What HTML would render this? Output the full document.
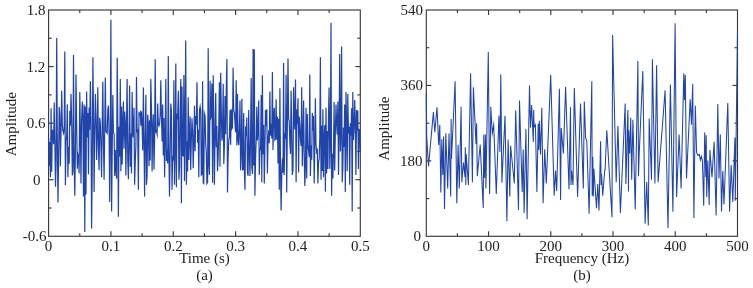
<!DOCTYPE html><html><head><meta charset="utf-8"><style>html,body{margin:0;padding:0;background:#fff;}svg{display:block;will-change:transform;}text{font-family:"Liberation Serif",serif;fill:#222;}</style></head><body>
<svg width="753" height="288" viewBox="0 0 753 288">
<g stroke="#3a3a3a" stroke-width="1.15" fill="none">
<line x1="110.94" y1="236.3" x2="110.94" y2="231.3"/>
<line x1="110.94" y1="10.0" x2="110.94" y2="15.0"/>
<line x1="173.28" y1="236.3" x2="173.28" y2="231.3"/>
<line x1="173.28" y1="10.0" x2="173.28" y2="15.0"/>
<line x1="235.62" y1="236.3" x2="235.62" y2="231.3"/>
<line x1="235.62" y1="10.0" x2="235.62" y2="15.0"/>
<line x1="297.96" y1="236.3" x2="297.96" y2="231.3"/>
<line x1="297.96" y1="10.0" x2="297.96" y2="15.0"/>
<line x1="79.77" y1="236.3" x2="79.77" y2="233.3"/>
<line x1="79.77" y1="10.0" x2="79.77" y2="13.0"/>
<line x1="142.11" y1="236.3" x2="142.11" y2="233.3"/>
<line x1="142.11" y1="10.0" x2="142.11" y2="13.0"/>
<line x1="204.45" y1="236.3" x2="204.45" y2="233.3"/>
<line x1="204.45" y1="10.0" x2="204.45" y2="13.0"/>
<line x1="266.79" y1="236.3" x2="266.79" y2="233.3"/>
<line x1="266.79" y1="10.0" x2="266.79" y2="13.0"/>
<line x1="329.13" y1="236.3" x2="329.13" y2="233.3"/>
<line x1="329.13" y1="10.0" x2="329.13" y2="13.0"/>
<line x1="48.6" y1="66.58" x2="53.6" y2="66.58"/>
<line x1="360.3" y1="66.58" x2="355.3" y2="66.58"/>
<line x1="48.6" y1="123.15" x2="53.6" y2="123.15"/>
<line x1="360.3" y1="123.15" x2="355.3" y2="123.15"/>
<line x1="48.6" y1="179.73" x2="53.6" y2="179.73"/>
<line x1="360.3" y1="179.73" x2="355.3" y2="179.73"/>
<line x1="48.6" y1="38.29" x2="51.6" y2="38.29"/>
<line x1="360.3" y1="38.29" x2="357.3" y2="38.29"/>
<line x1="48.6" y1="94.86" x2="51.6" y2="94.86"/>
<line x1="360.3" y1="94.86" x2="357.3" y2="94.86"/>
<line x1="48.6" y1="151.44" x2="51.6" y2="151.44"/>
<line x1="360.3" y1="151.44" x2="357.3" y2="151.44"/>
<line x1="48.6" y1="208.01" x2="51.6" y2="208.01"/>
<line x1="360.3" y1="208.01" x2="357.3" y2="208.01"/>
<rect x="48.6" y="10.0" width="311.70" height="226.30" fill="none"/>
<line x1="488.54" y1="236.3" x2="488.54" y2="231.3"/>
<line x1="488.54" y1="10.0" x2="488.54" y2="15.0"/>
<line x1="550.78" y1="236.3" x2="550.78" y2="231.3"/>
<line x1="550.78" y1="10.0" x2="550.78" y2="15.0"/>
<line x1="613.02" y1="236.3" x2="613.02" y2="231.3"/>
<line x1="613.02" y1="10.0" x2="613.02" y2="15.0"/>
<line x1="675.26" y1="236.3" x2="675.26" y2="231.3"/>
<line x1="675.26" y1="10.0" x2="675.26" y2="15.0"/>
<line x1="457.42" y1="236.3" x2="457.42" y2="233.3"/>
<line x1="457.42" y1="10.0" x2="457.42" y2="13.0"/>
<line x1="519.66" y1="236.3" x2="519.66" y2="233.3"/>
<line x1="519.66" y1="10.0" x2="519.66" y2="13.0"/>
<line x1="581.90" y1="236.3" x2="581.90" y2="233.3"/>
<line x1="581.90" y1="10.0" x2="581.90" y2="13.0"/>
<line x1="644.14" y1="236.3" x2="644.14" y2="233.3"/>
<line x1="644.14" y1="10.0" x2="644.14" y2="13.0"/>
<line x1="706.38" y1="236.3" x2="706.38" y2="233.3"/>
<line x1="706.38" y1="10.0" x2="706.38" y2="13.0"/>
<line x1="426.3" y1="85.43" x2="431.3" y2="85.43"/>
<line x1="737.5" y1="85.43" x2="732.5" y2="85.43"/>
<line x1="426.3" y1="160.87" x2="431.3" y2="160.87"/>
<line x1="737.5" y1="160.87" x2="732.5" y2="160.87"/>
<line x1="426.3" y1="47.72" x2="429.3" y2="47.72"/>
<line x1="737.5" y1="47.72" x2="734.5" y2="47.72"/>
<line x1="426.3" y1="123.15" x2="429.3" y2="123.15"/>
<line x1="737.5" y1="123.15" x2="734.5" y2="123.15"/>
<line x1="426.3" y1="198.58" x2="429.3" y2="198.58"/>
<line x1="737.5" y1="198.58" x2="734.5" y2="198.58"/>
<rect x="426.3" y="10.0" width="311.20" height="226.30" fill="none"/>
</g>
<polyline points="48.6,138.0 49.2,166.0 49.8,142.1 50.5,177.3 51.1,108.3 51.7,171.7 52.3,130.4 53.0,130.4 53.6,144.2 54.2,102.5 54.8,137.6 55.5,186.7 56.1,163.1 56.7,38.0 57.3,138.0 58.0,202.5 58.6,158.4 59.2,106.9 59.8,114.2 60.4,166.2 61.1,126.9 61.7,90.8 62.3,124.5 62.9,131.1 63.6,133.3 64.2,128.4 64.8,51.6 65.4,185.2 66.1,141.3 66.7,136.4 67.3,104.2 67.9,177.3 68.5,146.9 69.2,163.8 69.8,111.1 70.4,125.8 71.0,94.0 71.7,122.4 72.3,175.3 72.9,171.2 73.5,55.0 74.2,165.4 74.8,195.8 75.4,149.8 76.0,74.4 76.7,128.7 77.3,168.7 77.9,154.2 78.5,156.4 79.1,173.5 79.8,91.9 80.4,131.4 81.0,183.5 81.6,119.5 82.3,101.4 82.9,119.0 83.5,196.6 84.1,104.6 84.8,232.1 85.4,106.4 86.0,194.6 86.6,91.4 87.3,137.5 87.9,113.1 88.5,174.3 89.1,107.5 89.7,129.7 90.4,81.2 91.0,121.7 91.6,228.6 92.2,174.4 92.9,57.2 93.5,114.9 94.1,192.1 94.7,133.9 95.4,94.0 96.0,116.9 96.6,160.1 97.2,136.4 97.8,87.2 98.5,150.7 99.1,170.3 99.7,117.8 100.3,123.0 101.0,149.1 101.6,177.3 102.2,123.6 102.8,81.7 103.5,145.9 104.1,179.8 104.7,131.9 105.3,77.4 106.0,131.5 106.6,132.4 107.2,133.2 107.8,110.0 108.4,105.7 109.1,134.9 109.7,202.0 110.3,134.2 110.9,19.8 111.6,211.4 112.2,151.3 112.8,95.1 113.4,132.3 114.1,134.1 114.7,176.1 115.3,150.0 115.9,171.0 116.6,178.6 117.2,57.8 117.8,124.2 118.4,216.8 119.0,126.7 119.7,156.5 120.3,79.1 120.9,171.2 121.5,106.5 122.2,164.6 122.8,119.6 123.4,101.4 124.0,148.8 124.7,111.5 125.3,122.3 125.9,175.5 126.5,124.7 127.1,79.1 127.8,161.1 128.4,179.3 129.0,141.2 129.6,85.5 130.3,166.8 130.9,133.4 131.5,173.6 132.1,91.9 132.8,134.2 133.4,137.5 134.0,107.8 134.6,184.7 135.3,161.1 135.9,144.7 136.5,77.0 137.1,131.2 137.7,130.4 138.4,189.7 139.0,113.2 139.6,114.2 140.2,112.5 140.9,125.8 141.5,111.2 142.1,124.6 142.7,150.6 143.4,87.6 144.0,140.6 144.6,196.6 145.2,138.7 145.9,95.1 146.5,184.7 147.1,175.4 147.7,114.8 148.3,123.1 149.0,166.2 149.6,120.2 150.2,160.6 150.8,79.1 151.5,108.8 152.1,171.5 152.7,129.0 153.3,114.2 154.0,169.5 154.6,140.1 155.2,59.3 155.8,131.4 156.4,130.4 157.1,134.1 157.7,103.6 158.3,124.5 158.9,126.0 159.6,123.2 160.2,114.2 160.8,80.2 161.4,115.1 162.1,141.6 162.7,104.6 163.3,155.5 163.9,117.9 164.6,177.3 165.2,135.0 165.8,79.1 166.4,161.0 167.0,149.8 167.7,163.4 168.3,55.9 168.9,155.6 169.5,196.6 170.2,149.5 170.8,103.6 171.4,110.5 172.0,189.7 172.7,157.8 173.3,159.0 173.9,80.2 174.5,184.7 175.2,146.1 175.8,63.5 176.4,187.2 177.0,113.7 177.6,119.5 178.3,90.8 178.9,179.8 179.5,167.2 180.1,109.3 180.8,79.1 181.4,203.2 182.0,86.6 182.6,155.4 183.3,155.9 183.9,74.9 184.5,181.0 185.1,129.8 185.7,40.4 186.4,184.7 187.0,141.3 187.6,171.4 188.2,97.2 188.9,160.0 189.5,128.7 190.1,116.3 190.7,169.9 191.4,137.2 192.0,118.2 192.6,131.7 193.2,168.2 193.9,140.7 194.5,105.7 195.1,151.3 195.7,116.0 196.3,124.6 197.0,82.3 197.6,142.7 198.2,129.7 198.8,177.3 199.5,110.1 200.1,106.6 200.7,111.0 201.3,174.9 202.0,174.0 202.6,81.2 203.2,182.8 203.8,183.5 204.4,113.5 205.1,116.3 205.7,143.5 206.3,152.1 206.9,183.5 207.6,182.3 208.2,48.2 208.8,163.6 209.4,174.9 210.1,80.8 210.7,118.0 211.3,116.0 211.9,83.4 212.6,182.8 213.2,75.3 213.8,119.5 214.4,184.7 215.0,138.0 215.7,92.9 216.3,147.2 216.9,125.9 217.5,171.2 218.2,156.6 218.8,125.9 219.4,82.3 220.0,166.7 220.7,72.7 221.3,110.8 221.9,140.8 222.5,135.4 223.2,83.8 223.8,164.0 224.4,147.1 225.0,96.1 225.6,134.3 226.3,87.2 226.9,58.9 227.5,192.6 228.1,156.4 228.8,139.3 229.4,137.0 230.0,110.0 230.6,144.8 231.3,109.3 231.9,128.7 232.5,127.5 233.1,67.8 233.7,110.7 234.4,112.3 235.0,122.8 235.6,132.2 236.2,80.2 236.9,145.6 237.5,94.0 238.1,140.2 238.7,145.0 239.4,127.6 240.0,100.4 240.6,170.3 241.2,154.1 241.9,98.7 242.5,169.9 243.1,169.5 243.7,113.1 244.3,168.4 245.0,189.7 245.6,126.6 246.2,136.2 246.8,117.4 247.5,172.4 248.1,175.8 248.7,110.0 249.3,151.9 250.0,176.1 250.6,134.7 251.2,78.1 251.8,167.5 252.5,174.0 253.1,48.9 253.7,165.5 254.3,49.5 254.9,195.8 255.6,157.4 256.2,139.6 256.8,106.7 257.4,140.5 258.1,129.2 258.7,100.4 259.3,174.9 259.9,151.7 260.6,147.2 261.2,95.1 261.8,182.3 262.4,75.3 263.0,154.2 263.7,124.8 264.3,183.5 264.9,148.3 265.5,110.0 266.2,126.2 266.8,109.3 267.4,173.6 268.0,141.7 268.7,130.4 269.3,143.3 269.9,91.4 270.5,135.6 271.2,123.7 271.8,138.5 272.4,72.1 273.0,149.9 273.6,114.8 274.3,107.8 274.9,140.0 275.5,139.0 276.1,99.3 276.8,139.7 277.4,116.7 278.0,163.5 278.6,118.8 279.3,189.7 279.9,88.3 280.5,166.8 281.1,210.6 281.8,172.7 282.4,158.4 283.0,172.6 283.6,63.1 284.2,174.9 284.9,133.3 285.5,138.7 286.1,74.9 286.7,192.6 287.4,119.5 288.0,58.4 288.6,118.9 289.2,120.7 289.9,143.8 290.5,154.0 291.1,90.8 291.7,127.7 292.3,174.9 293.0,170.0 293.6,87.2 294.2,119.1 294.8,129.5 295.5,79.5 296.1,182.3 296.7,109.5 297.3,124.3 298.0,98.2 298.6,172.6 299.2,116.6 299.8,125.8 300.5,140.4 301.1,146.0 301.7,87.2 302.3,166.2 302.9,143.2 303.6,100.4 304.2,153.6 304.8,186.0 305.4,166.6 306.1,107.8 306.7,178.6 307.3,114.1 307.9,144.7 308.6,151.5 309.2,157.3 309.8,74.4 310.4,176.1 311.1,145.2 311.7,159.7 312.3,112.8 312.9,130.4 313.5,115.7 314.2,183.5 314.8,143.8 315.4,98.2 316.0,144.0 316.7,153.9 317.3,148.5 317.9,183.5 318.5,162.7 319.2,158.8 319.8,136.9 320.4,57.2 321.0,179.8 321.6,125.6 322.3,170.9 322.9,109.3 323.5,177.3 324.1,137.2 324.8,125.1 325.4,191.6 326.0,107.8 326.6,173.4 327.3,131.0 327.9,168.9 328.5,115.1 329.1,87.6 329.8,168.8 330.4,140.3 331.0,22.7 331.6,195.8 332.2,153.8 332.9,178.6 333.5,149.9 334.1,102.1 334.7,170.6 335.4,129.9 336.0,104.6 336.6,123.0 337.2,134.4 337.9,101.4 338.5,174.9 339.1,131.4 339.7,54.0 340.4,151.5 341.0,130.9 341.6,46.5 342.2,182.3 342.8,168.8 343.5,127.5 344.1,146.8 344.7,104.6 345.3,192.1 346.0,91.9 346.6,125.0 347.2,171.2 347.8,94.0 348.5,133.6 349.1,127.1 349.7,184.7 350.3,123.2 350.9,135.4 351.6,108.3 352.2,211.4 352.8,91.9 353.4,140.2 354.1,129.1 354.7,100.0 355.3,119.9 355.9,174.9 356.6,110.0 357.2,130.5 357.8,110.6 358.4,168.9 359.1,129.5 359.7,130.0 360.3,152.0" fill="none" stroke="#2044a9" stroke-width="1.2" stroke-linejoin="miter" stroke-miterlimit="10"/>
<polyline points="426.3,93.5 426.7,136.0 428.5,166.2 433.4,112.1 434.8,132.3 437.0,107.2 438.7,145.0 439.8,124.9 440.8,192.6 441.8,139.3 442.8,174.9 443.6,136.4 444.5,208.9 445.8,133.3 447.7,188.4 449.0,133.4 450.7,196.6 451.1,119.0 451.5,158.9 455.1,81.2 456.8,203.2 458.1,144.8 459.3,188.4 461.1,106.7 461.8,182.3 463.5,162.5 465.0,177.3 465.3,147.2 465.8,185.0 466.2,154.0 468.4,185.0 470.6,73.2 472.4,182.3 473.4,87.2 476.0,144.0 476.6,123.3 477.3,176.1 480.2,144.5 483.2,208.1 483.8,134.4 484.6,178.0 485.4,134.4 485.9,188.4 488.3,51.9 489.6,194.1 490.8,106.7 492.3,133.4 493.7,125.0 496.3,194.1 498.9,115.7 499.9,151.9 500.8,74.4 501.9,182.8 505.0,115.7 506.9,221.2 508.1,139.6 509.8,196.6 510.6,145.8 514.3,183.5 515.7,110.6 518.5,209.9 519.5,100.4 522.2,192.1 523.2,149.6 524.1,213.1 525.9,129.1 527.1,219.2 529.5,85.5 530.5,127.8 531.6,105.0 533.3,141.9 533.7,110.0 534.1,127.0 535.4,124.9 536.9,192.1 538.2,123.8 538.8,150.0 539.3,120.8 540.5,154.4 541.8,107.8 543.1,203.2 544.7,149.2 546.3,183.5 550.7,74.9 554.2,195.8 555.5,170.6 556.7,190.9 559.4,88.7 560.6,200.0 561.2,128.1 563.4,153.5 565.6,87.0 569.0,189.2 570.5,107.2 571.0,185.0 571.6,170.8 573.0,185.0 574.3,88.0 577.6,197.1 580.5,103.6 583.3,188.4 584.3,101.4 585.6,138.0 586.8,141.0 589.1,213.8 591.8,81.2 592.2,195.8 592.8,156.7 593.3,196.6 593.9,168.8 596.5,208.1 597.8,184.1 599.0,210.6 600.6,141.2 601.1,185.0 601.6,174.0 602.7,195.8 604.8,169.8 605.1,169.9 606.8,130.2 612.0,217.3 612.6,35.1 616.2,182.3 617.9,126.0 620.4,213.1 625.2,103.6 625.9,183.9 626.6,160.4 627.2,131.2 627.9,110.0 628.5,191.6 628.7,130.2 629.7,153.4 630.7,117.8 631.7,179.8 632.9,119.8 635.2,209.4 637.9,61.0 638.5,176.3 639.1,156.2 640.2,131.2 642.8,71.0 645.1,223.7 646.7,181.9 648.3,225.4 649.2,118.4 651.5,179.8 652.4,59.3 654.9,183.5 656.6,65.2 658.1,182.3 665.1,90.2 668.0,227.9 670.4,84.4 672.9,211.8 675.1,23.2 676.6,197.1 679.1,134.4 681.1,188.4 683.8,73.2 684.5,100.1 685.3,74.9 686.5,178.6 690.2,99.3 691.5,124.7 692.7,83.8 693.9,218.0 695.3,105.7 696.6,152.5 698.0,155.5 699.3,154.5 700.4,160.0 701.4,156.5 702.4,161.0 703.7,205.7 704.7,132.4 705.8,177.0 706.2,135.2 706.7,197.1 707.8,160.4 709.2,204.9 709.9,150.0 712.0,177.2 714.1,141.7 716.1,215.5 717.8,104.0 719.0,178.4 720.3,134.4 721.5,211.4 722.8,170.9 724.0,204.4 727.8,103.1 729.6,211.8 731.2,165.1 732.8,202.0 734.9,137.5 735.3,200.7 737.5,31.5" fill="none" stroke="#2044a9" stroke-width="1.05" stroke-linejoin="miter" stroke-miterlimit="10"/>
<g font-size="15">
<text x="48.60" y="251.30" text-anchor="middle">0</text>
<text x="110.94" y="251.30" text-anchor="middle">0.1</text>
<text x="173.28" y="251.30" text-anchor="middle">0.2</text>
<text x="235.62" y="251.30" text-anchor="middle">0.3</text>
<text x="297.96" y="251.30" text-anchor="middle">0.4</text>
<text x="360.30" y="251.30" text-anchor="middle">0.5</text>
<text x="426.30" y="251.30" text-anchor="middle">0</text>
<text x="488.54" y="251.30" text-anchor="middle">100</text>
<text x="550.78" y="251.30" text-anchor="middle">200</text>
<text x="613.02" y="251.30" text-anchor="middle">300</text>
<text x="675.26" y="251.30" text-anchor="middle">400</text>
<text x="737.50" y="251.30" text-anchor="middle">500</text>
<text x="45.60" y="15.00" text-anchor="end">1.8</text>
<text x="45.20" y="71.58" text-anchor="end">1.2</text>
<text x="45.40" y="128.15" text-anchor="end">0.6</text>
<text x="40.60" y="184.73" text-anchor="end">0</text>
<text x="46.40" y="241.30" text-anchor="end">-0.6</text>
<text x="423.00" y="15.00" text-anchor="end">540</text>
<text x="423.00" y="90.43" text-anchor="end">360</text>
<text x="422.60" y="165.87" text-anchor="end">180</text>
<text x="421.00" y="241.30" text-anchor="end">0</text>
<text x="204.5" y="263.1" text-anchor="middle">Time (s)</text>
<text x="204.5" y="280" text-anchor="middle">(a)</text>
<text x="582" y="263.1" text-anchor="middle">Frequency (Hz)</text>
<text x="582" y="280" text-anchor="middle">(b)</text>
<text transform="translate(16,124.2) rotate(-90)" text-anchor="middle">Amplitude</text>
<text transform="translate(389.2,128.6) rotate(-90)" text-anchor="middle">Amplitude</text>
</g>
</svg></body></html>
